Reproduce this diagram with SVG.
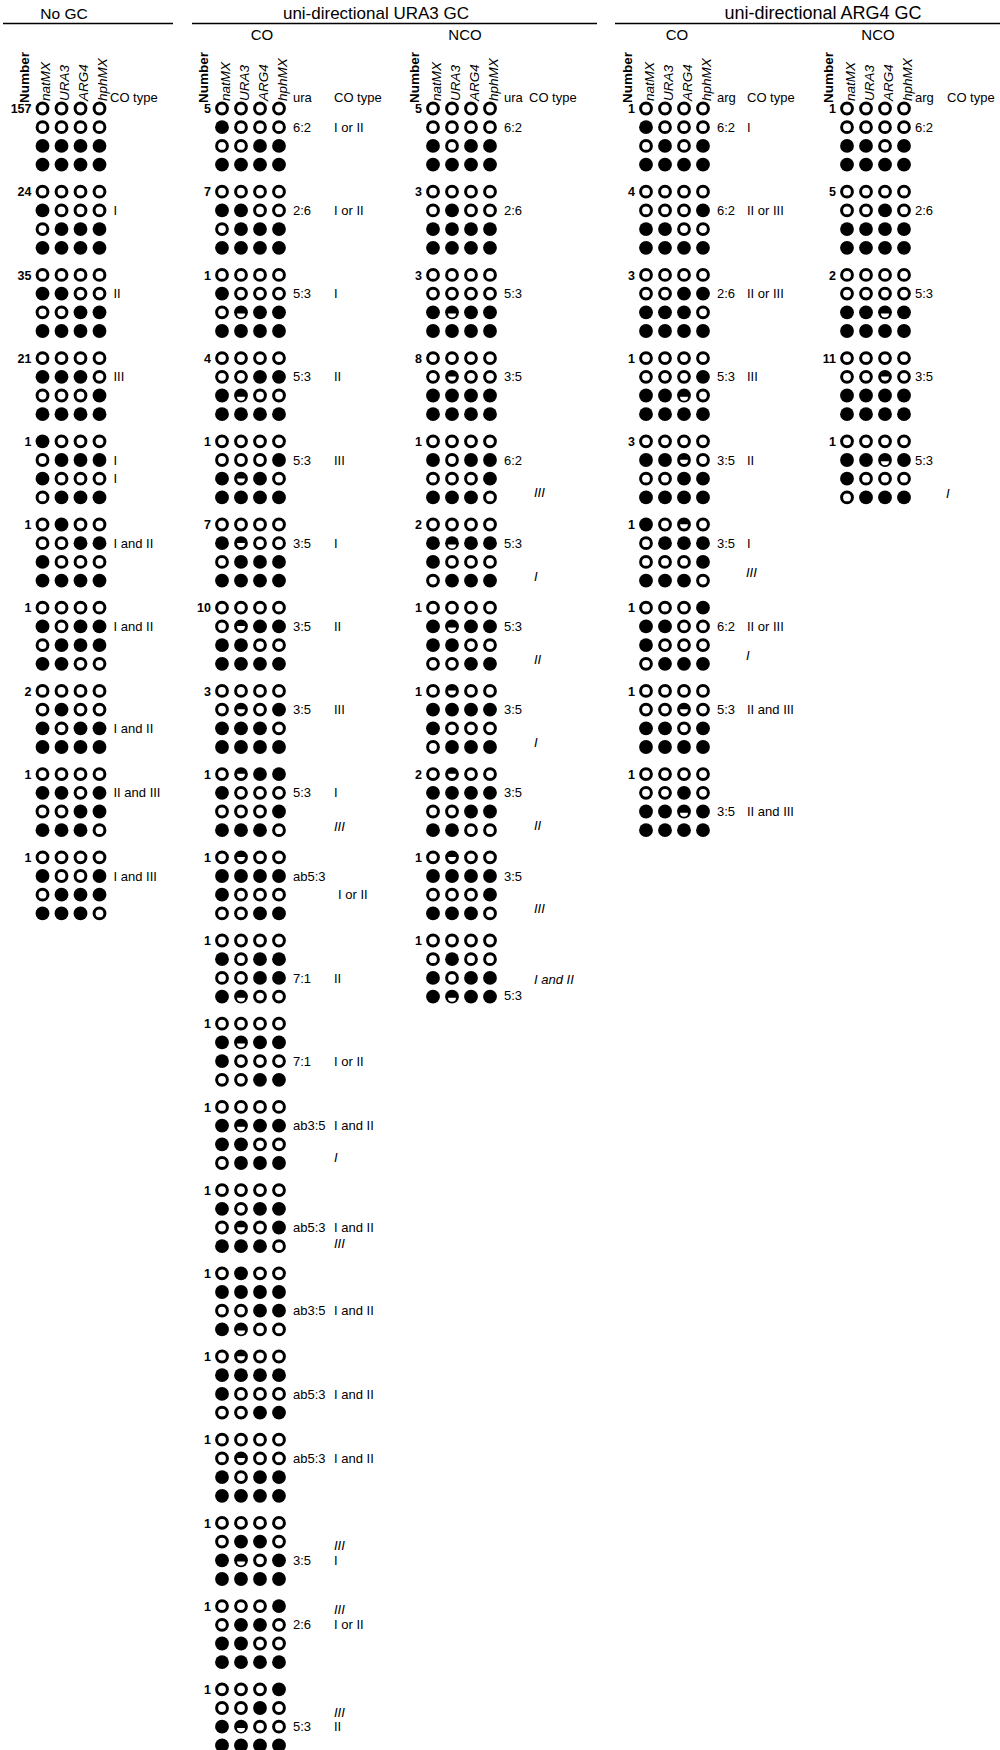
<svg xmlns="http://www.w3.org/2000/svg" width="1000" height="1750" viewBox="0 0 1000 1750">
<style>
text{font-family:"Liberation Sans",Arial,sans-serif;fill:#000}
.h{font-size:15.5px;text-anchor:middle}
.hs{font-size:15px;text-anchor:middle}
.n{font-size:12.5px;font-weight:bold;text-anchor:end}
.l{font-size:13px}
.i{font-size:13px;font-style:italic}
.g{font-size:13.5px;font-style:italic}
.nb{font-size:13.5px;font-weight:bold}
.rule{stroke:#000;stroke-width:1.3}
</style>
<defs>
<circle id="o" r="5.4" fill="#fff" stroke="#000" stroke-width="3"/>
<circle id="x" r="6.9" fill="#000"/>
<g id="T"><use href="#o"/><path d="M-4.2,-0.3A4.2,4.2 0 0 1 4.2,-0.3Z"/></g>
<g id="B"><use href="#x"/><path d="M-4,1.2A4,4 0 0 0 4,1.2Z" fill="#fff"/></g>
<g id="p-oooo"><use href="#o"/><use href="#o" x="19"/><use href="#o" x="38"/><use href="#o" x="57"/></g>
<g id="p-xxxx"><use href="#x"/><use href="#x" x="19"/><use href="#x" x="38"/><use href="#x" x="57"/></g>
<g id="p-xooo"><use href="#x"/><use href="#o" x="19"/><use href="#o" x="38"/><use href="#o" x="57"/></g>
<g id="p-oxxx"><use href="#o"/><use href="#x" x="19"/><use href="#x" x="38"/><use href="#x" x="57"/></g>
<g id="p-xxoo"><use href="#x"/><use href="#x" x="19"/><use href="#o" x="38"/><use href="#o" x="57"/></g>
<g id="p-ooxx"><use href="#o"/><use href="#o" x="19"/><use href="#x" x="38"/><use href="#x" x="57"/></g>
<g id="p-xxxo"><use href="#x"/><use href="#x" x="19"/><use href="#x" x="38"/><use href="#o" x="57"/></g>
<g id="p-ooox"><use href="#o"/><use href="#o" x="19"/><use href="#o" x="38"/><use href="#x" x="57"/></g>
<g id="p-oxoo"><use href="#o"/><use href="#x" x="19"/><use href="#o" x="38"/><use href="#o" x="57"/></g>
<g id="p-xoxx"><use href="#x"/><use href="#o" x="19"/><use href="#x" x="38"/><use href="#x" x="57"/></g>
<g id="p-xxox"><use href="#x"/><use href="#x" x="19"/><use href="#o" x="38"/><use href="#x" x="57"/></g>
<g id="p-xoox"><use href="#x"/><use href="#o" x="19"/><use href="#o" x="38"/><use href="#x" x="57"/></g>
<g id="p-ooxo"><use href="#o"/><use href="#o" x="19"/><use href="#x" x="38"/><use href="#o" x="57"/></g>
<g id="p-oxxo"><use href="#o"/><use href="#x" x="19"/><use href="#x" x="38"/><use href="#o" x="57"/></g>
<g id="p-oxox"><use href="#o"/><use href="#x" x="19"/><use href="#o" x="38"/><use href="#x" x="57"/></g>
<g id="p-oBxx"><use href="#o"/><use href="#B" x="19"/><use href="#x" x="38"/><use href="#x" x="57"/></g>
<g id="p-xBoo"><use href="#x"/><use href="#B" x="19"/><use href="#o" x="38"/><use href="#o" x="57"/></g>
<g id="p-xTxo"><use href="#x"/><use href="#T" x="19"/><use href="#x" x="38"/><use href="#o" x="57"/></g>
<g id="p-xToo"><use href="#x"/><use href="#T" x="19"/><use href="#o" x="38"/><use href="#o" x="57"/></g>
<g id="p-oTxx"><use href="#o"/><use href="#T" x="19"/><use href="#x" x="38"/><use href="#x" x="57"/></g>
<g id="p-oTox"><use href="#o"/><use href="#T" x="19"/><use href="#o" x="38"/><use href="#x" x="57"/></g>
<g id="p-oToo"><use href="#o"/><use href="#T" x="19"/><use href="#o" x="38"/><use href="#o" x="57"/></g>
<g id="p-xBxx"><use href="#x"/><use href="#B" x="19"/><use href="#x" x="38"/><use href="#x" x="57"/></g>
<g id="p-xBox"><use href="#x"/><use href="#B" x="19"/><use href="#o" x="38"/><use href="#x" x="57"/></g>
<g id="p-xxBo"><use href="#x"/><use href="#x" x="19"/><use href="#B" x="38"/><use href="#o" x="57"/></g>
<g id="p-xxTo"><use href="#x"/><use href="#x" x="19"/><use href="#T" x="38"/><use href="#o" x="57"/></g>
<g id="p-xoTo"><use href="#x"/><use href="#o" x="19"/><use href="#T" x="38"/><use href="#o" x="57"/></g>
<g id="p-ooTo"><use href="#o"/><use href="#o" x="19"/><use href="#T" x="38"/><use href="#o" x="57"/></g>
<g id="p-xxBx"><use href="#x"/><use href="#x" x="19"/><use href="#B" x="38"/><use href="#x" x="57"/></g>
</defs>
<rect width="1000" height="1750" fill="#fff"/>

<g id="headers">
<text class="h" x="64" y="19">No GC</text>
<line class="rule" x1="3" y1="23.5" x2="173" y2="23.5"/>
<text class="h" x="376" y="19" style="font-size:17px">uni-directional URA3 GC</text>
<line class="rule" x1="192" y1="23.5" x2="597" y2="23.5"/>
<text class="hs" x="262" y="40">CO</text>
<text class="hs" x="465" y="40">NCO</text>
<text class="h" x="823" y="19" style="font-size:18px">uni-directional ARG4 GC</text>
<line class="rule" x1="615" y1="23.5" x2="1000" y2="23.5"/>
<text class="hs" x="677" y="40">CO</text>
<text class="hs" x="878" y="40">NCO</text>
</g>

<g id="col-heads">
<g id="head-nogc">
<text class="nb" transform="translate(28.5,103) rotate(-90)">Number</text>
<text class="g" transform="translate(50,101) rotate(-90)">natMX</text>
<text class="g" transform="translate(69,101) rotate(-90)">URA3</text>
<text class="g" transform="translate(88,101) rotate(-90)">ARG4</text>
<text class="g" transform="translate(107,101) rotate(-90)">hphMX</text>
<text class="l" x="110" y="101.5">CO type</text>
</g>
<g id="head-ura-co">
<text class="nb" transform="translate(208,103) rotate(-90)">Number</text>
<text class="g" transform="translate(229.5,101) rotate(-90)">natMX</text>
<text class="g" transform="translate(248.5,101) rotate(-90)">URA3</text>
<text class="g" transform="translate(267.5,101) rotate(-90)">ARG4</text>
<text class="g" transform="translate(286.5,101) rotate(-90)">hphMX</text>
<text class="l" x="293" y="101.5">ura</text>
<text class="l" x="334" y="101.5">CO type</text>
</g>
<g id="head-ura-nco">
<text class="nb" transform="translate(419,103) rotate(-90)">Number</text>
<text class="g" transform="translate(440.5,101) rotate(-90)">natMX</text>
<text class="g" transform="translate(459.5,101) rotate(-90)">URA3</text>
<text class="g" transform="translate(478.5,101) rotate(-90)">ARG4</text>
<text class="g" transform="translate(497.5,101) rotate(-90)">hphMX</text>
<text class="l" x="504" y="101.5">ura</text>
<text class="l" x="529" y="101.5">CO type</text>
</g>
<g id="head-arg-co">
<text class="nb" transform="translate(632,103) rotate(-90)">Number</text>
<text class="g" transform="translate(653.5,101) rotate(-90)">natMX</text>
<text class="g" transform="translate(672.5,101) rotate(-90)">URA3</text>
<text class="g" transform="translate(691.5,101) rotate(-90)">ARG4</text>
<text class="g" transform="translate(710.5,101) rotate(-90)">hphMX</text>
<text class="l" x="717" y="101.5">arg</text>
<text class="l" x="747" y="101.5">CO type</text>
</g>
<g id="head-arg-nco">
<text class="nb" transform="translate(833,103) rotate(-90)">Number</text>
<text class="g" transform="translate(854.5,101) rotate(-90)">natMX</text>
<text class="g" transform="translate(873.5,101) rotate(-90)">URA3</text>
<text class="g" transform="translate(892.5,101) rotate(-90)">ARG4</text>
<text class="g" transform="translate(911.5,101) rotate(-90)">hphMX</text>
<text class="l" x="915" y="101.5">arg</text>
<text class="l" x="947" y="101.5">CO type</text>
</g>
</g>

<g id="nogc">
<g id="ng0" transform="translate(42.5,108.5)"><use href="#p-oooo"/><use href="#p-oooo" y="18.7"/><use href="#p-xxxx" y="37.4"/><use href="#p-xxxx" y="56.1"/><text class="n" x="-11" y="4.6">157</text></g>
<g id="ng1" transform="translate(42.5,191.7)"><use href="#p-oooo"/><use href="#p-xooo" y="18.7"/><use href="#p-oxxx" y="37.4"/><use href="#p-xxxx" y="56.1"/><text class="n" x="-11" y="4.6">24</text><text class="l" x="71" y="23.4">I</text></g>
<g id="ng2" transform="translate(42.5,274.9)"><use href="#p-oooo"/><use href="#p-xxoo" y="18.7"/><use href="#p-ooxx" y="37.4"/><use href="#p-xxxx" y="56.1"/><text class="n" x="-11" y="4.6">35</text><text class="l" x="71" y="23.4">II</text></g>
<g id="ng3" transform="translate(42.5,358.1)"><use href="#p-oooo"/><use href="#p-xxxo" y="18.7"/><use href="#p-ooox" y="37.4"/><use href="#p-xxxx" y="56.1"/><text class="n" x="-11" y="4.6">21</text><text class="l" x="71" y="23.4">III</text></g>
<g id="ng4" transform="translate(42.5,441.3)"><use href="#p-xooo"/><use href="#p-oxxx" y="18.7"/><use href="#p-xooo" y="37.4"/><use href="#p-oxxx" y="56.1"/><text class="n" x="-11" y="4.6">1</text><text class="l" x="71" y="23.4">I</text><text class="l" x="71" y="42.1">I</text></g>
<g id="ng5" transform="translate(42.5,524.5)"><use href="#p-oxoo"/><use href="#p-ooxx" y="18.7"/><use href="#p-xooo" y="37.4"/><use href="#p-xxxx" y="56.1"/><text class="n" x="-11" y="4.6">1</text><text class="l" x="71" y="23.4">I and II</text></g>
<g id="ng6" transform="translate(42.5,607.7)"><use href="#p-oooo"/><use href="#p-xoxx" y="18.7"/><use href="#p-oxxx" y="37.4"/><use href="#p-xxoo" y="56.1"/><text class="n" x="-11" y="4.6">1</text><text class="l" x="71" y="23.4">I and II</text></g>
<g id="ng7" transform="translate(42.5,690.9)"><use href="#p-oooo"/><use href="#p-oxoo" y="18.7"/><use href="#p-xoxx" y="37.4"/><use href="#p-xxxx" y="56.1"/><text class="n" x="-11" y="4.6">2</text><text class="l" x="71" y="42.1">I and II</text></g>
<g id="ng8" transform="translate(42.5,774.1)"><use href="#p-oooo"/><use href="#p-xxox" y="18.7"/><use href="#p-ooxx" y="37.4"/><use href="#p-xxxo" y="56.1"/><text class="n" x="-11" y="4.6">1</text><text class="l" x="71" y="23.4">II and III</text></g>
<g id="ng9" transform="translate(42.5,857.3)"><use href="#p-oooo"/><use href="#p-xoox" y="18.7"/><use href="#p-oxxx" y="37.4"/><use href="#p-xxxo" y="56.1"/><text class="n" x="-11" y="4.6">1</text><text class="l" x="71" y="23.4">I and III</text></g>
</g>

<g id="ura-co">
<g id="uc0" transform="translate(222,108.5)"><use href="#p-oooo"/><use href="#p-xooo" y="18.7"/><use href="#p-ooxx" y="37.4"/><use href="#p-xxxx" y="56.1"/><text class="n" x="-11" y="4.6">5</text><text class="l" x="71" y="23.4">6:2</text><text class="l" x="112" y="23.4">I or II</text></g>
<g id="uc1" transform="translate(222,191.7)"><use href="#p-oooo"/><use href="#p-xxoo" y="18.7"/><use href="#p-oxxx" y="37.4"/><use href="#p-xxxx" y="56.1"/><text class="n" x="-11" y="4.6">7</text><text class="l" x="71" y="23.4">2:6</text><text class="l" x="112" y="23.4">I or II</text></g>
<g id="uc2" transform="translate(222,274.9)"><use href="#p-oooo"/><use href="#p-xooo" y="18.7"/><use href="#p-oBxx" y="37.4"/><use href="#p-xxxx" y="56.1"/><text class="n" x="-11" y="4.6">1</text><text class="l" x="71" y="23.4">5:3</text><text class="l" x="112" y="23.4">I</text></g>
<g id="uc3" transform="translate(222,358.1)"><use href="#p-oooo"/><use href="#p-ooxx" y="18.7"/><use href="#p-xBoo" y="37.4"/><use href="#p-xxxx" y="56.1"/><text class="n" x="-11" y="4.6">4</text><text class="l" x="71" y="23.4">5:3</text><text class="l" x="112" y="23.4">II</text></g>
<g id="uc4" transform="translate(222,441.3)"><use href="#p-oooo"/><use href="#p-ooox" y="18.7"/><use href="#p-xTxo" y="37.4"/><use href="#p-xxxx" y="56.1"/><text class="n" x="-11" y="4.6">1</text><text class="l" x="71" y="23.4">5:3</text><text class="l" x="112" y="23.4">III</text></g>
<g id="uc5" transform="translate(222,524.5)"><use href="#p-oooo"/><use href="#p-xToo" y="18.7"/><use href="#p-oxxx" y="37.4"/><use href="#p-xxxx" y="56.1"/><text class="n" x="-11" y="4.6">7</text><text class="l" x="71" y="23.4">3:5</text><text class="l" x="112" y="23.4">I</text></g>
<g id="uc6" transform="translate(222,607.7)"><use href="#p-oooo"/><use href="#p-oTxx" y="18.7"/><use href="#p-xxoo" y="37.4"/><use href="#p-xxxx" y="56.1"/><text class="n" x="-11" y="4.6">10</text><text class="l" x="71" y="23.4">3:5</text><text class="l" x="112" y="23.4">II</text></g>
<g id="uc7" transform="translate(222,690.9)"><use href="#p-oooo"/><use href="#p-oTox" y="18.7"/><use href="#p-xxxo" y="37.4"/><use href="#p-xxxx" y="56.1"/><text class="n" x="-11" y="4.6">3</text><text class="l" x="71" y="23.4">3:5</text><text class="l" x="112" y="23.4">III</text></g>
<g id="uc8" transform="translate(222,774.1)"><use href="#p-oTxx"/><use href="#p-xooo" y="18.7"/><use href="#p-ooox" y="37.4"/><use href="#p-xxxo" y="56.1"/><text class="n" x="-11" y="4.6">1</text><text class="l" x="71" y="23.4">5:3</text><text class="l" x="112" y="23.4">I</text><text class="i" x="112" y="57">III</text></g>
<g id="uc9" transform="translate(222,857.3)"><use href="#p-oToo"/><use href="#p-xxxx" y="18.7"/><use href="#p-xooo" y="37.4"/><use href="#p-ooxx" y="56.1"/><text class="n" x="-11" y="4.6">1</text><text class="l" x="71" y="23.4">ab5:3</text><text class="l" x="116" y="42.1">I or II</text></g>
<g id="uc10" transform="translate(222,940.5)"><use href="#p-oooo"/><use href="#p-xoxx" y="18.7"/><use href="#p-ooxx" y="37.4"/><use href="#p-xBoo" y="56.1"/><text class="n" x="-11" y="4.6">1</text><text class="l" x="71" y="42.1">7:1</text><text class="l" x="112" y="42.1">II</text></g>
<g id="uc11" transform="translate(222,1023.7)"><use href="#p-oooo"/><use href="#p-xBxx" y="18.7"/><use href="#p-xooo" y="37.4"/><use href="#p-ooxx" y="56.1"/><text class="n" x="-11" y="4.6">1</text><text class="l" x="71" y="42.1">7:1</text><text class="l" x="112" y="42.1">I or II</text></g>
<g id="uc12" transform="translate(222,1106.9)"><use href="#p-oooo"/><use href="#p-xBxx" y="18.7"/><use href="#p-xxoo" y="37.4"/><use href="#p-oxxx" y="56.1"/><text class="n" x="-11" y="4.6">1</text><text class="l" x="71" y="23.4">ab3:5</text><text class="l" x="112" y="23.4">I and II</text><text class="i" x="112" y="55.5">I</text></g>
<g id="uc13" transform="translate(222,1190.1)"><use href="#p-oooo"/><use href="#p-xoxx" y="18.7"/><use href="#p-oTox" y="37.4"/><use href="#p-xxxo" y="56.1"/><text class="n" x="-11" y="4.6">1</text><text class="l" x="71" y="42.1">ab5:3</text><text class="l" x="112" y="42.1">I and II</text><text class="i" x="112" y="57.7">III</text></g>
<g id="uc14" transform="translate(222,1273.3)"><use href="#p-oxoo"/><use href="#p-xxxx" y="18.7"/><use href="#p-ooxx" y="37.4"/><use href="#p-xBoo" y="56.1"/><text class="n" x="-11" y="4.6">1</text><text class="l" x="71" y="42.1">ab3:5</text><text class="l" x="112" y="42.1">I and II</text></g>
<g id="uc15" transform="translate(222,1356.5)"><use href="#p-oToo"/><use href="#p-xxxx" y="18.7"/><use href="#p-xooo" y="37.4"/><use href="#p-ooxx" y="56.1"/><text class="n" x="-11" y="4.6">1</text><text class="l" x="71" y="42.1">ab5:3</text><text class="l" x="112" y="42.1">I and II</text></g>
<g id="uc16" transform="translate(222,1439.7)"><use href="#p-oooo"/><use href="#p-oToo" y="18.7"/><use href="#p-xoxx" y="37.4"/><use href="#p-xxxx" y="56.1"/><text class="n" x="-11" y="4.6">1</text><text class="l" x="71" y="23.4">ab5:3</text><text class="l" x="112" y="23.4">I and II</text></g>
<g id="uc17" transform="translate(222,1522.9)"><use href="#p-oooo"/><use href="#p-oxxo" y="18.7"/><use href="#p-xBox" y="37.4"/><use href="#p-xxxx" y="56.1"/><text class="n" x="-11" y="4.6">1</text><text class="l" x="71" y="42.1">3:5</text><text class="i" x="112" y="27.6">III</text><text class="l" x="112" y="42.1">I</text></g>
<g id="uc18" transform="translate(222,1606.1)"><use href="#p-ooox"/><use href="#p-oxxo" y="18.7"/><use href="#p-xxoo" y="37.4"/><use href="#p-xxxx" y="56.1"/><text class="n" x="-11" y="4.6">1</text><text class="l" x="71" y="23.4">2:6</text><text class="i" x="112" y="8">III</text><text class="l" x="112" y="23.4">I or II</text></g>
<g id="uc19" transform="translate(222,1689.3)"><use href="#p-ooox"/><use href="#p-ooxo" y="18.7"/><use href="#p-xBoo" y="37.4"/><use href="#p-xxxx" y="56.1"/><text class="n" x="-11" y="4.6">1</text><text class="l" x="71" y="42.1">5:3</text><text class="i" x="112" y="27.6">III</text><text class="l" x="112" y="42.1">II</text></g>
</g>

<g id="ura-nco">
<g id="un0" transform="translate(433,108.5)"><use href="#p-oooo"/><use href="#p-oooo" y="18.7"/><use href="#p-xoxx" y="37.4"/><use href="#p-xxxx" y="56.1"/><text class="n" x="-11" y="4.6">5</text><text class="l" x="71" y="23.4">6:2</text></g>
<g id="un1" transform="translate(433,191.7)"><use href="#p-oooo"/><use href="#p-oxoo" y="18.7"/><use href="#p-xxxx" y="37.4"/><use href="#p-xxxx" y="56.1"/><text class="n" x="-11" y="4.6">3</text><text class="l" x="71" y="23.4">2:6</text></g>
<g id="un2" transform="translate(433,274.9)"><use href="#p-oooo"/><use href="#p-oooo" y="18.7"/><use href="#p-xBxx" y="37.4"/><use href="#p-xxxx" y="56.1"/><text class="n" x="-11" y="4.6">3</text><text class="l" x="71" y="23.4">5:3</text></g>
<g id="un3" transform="translate(433,358.1)"><use href="#p-oooo"/><use href="#p-oToo" y="18.7"/><use href="#p-xxxx" y="37.4"/><use href="#p-xxxx" y="56.1"/><text class="n" x="-11" y="4.6">8</text><text class="l" x="71" y="23.4">3:5</text></g>
<g id="un4" transform="translate(433,441.3)"><use href="#p-oooo"/><use href="#p-xoxx" y="18.7"/><use href="#p-ooox" y="37.4"/><use href="#p-xxxo" y="56.1"/><text class="n" x="-11" y="4.6">1</text><text class="l" x="71" y="23.4">6:2</text><text class="i" x="101" y="56">III</text></g>
<g id="un5" transform="translate(433,524.5)"><use href="#p-oooo"/><use href="#p-xBxx" y="18.7"/><use href="#p-xooo" y="37.4"/><use href="#p-oxxx" y="56.1"/><text class="n" x="-11" y="4.6">2</text><text class="l" x="71" y="23.4">5:3</text><text class="i" x="101" y="56">I</text></g>
<g id="un6" transform="translate(433,607.7)"><use href="#p-oooo"/><use href="#p-xBxx" y="18.7"/><use href="#p-xxoo" y="37.4"/><use href="#p-ooxx" y="56.1"/><text class="n" x="-11" y="4.6">1</text><text class="l" x="71" y="23.4">5:3</text><text class="i" x="101" y="56">II</text></g>
<g id="un7" transform="translate(433,690.9)"><use href="#p-oToo"/><use href="#p-xxxx" y="18.7"/><use href="#p-xooo" y="37.4"/><use href="#p-oxxx" y="56.1"/><text class="n" x="-11" y="4.6">1</text><text class="l" x="71" y="23.4">3:5</text><text class="i" x="101" y="56">I</text></g>
<g id="un8" transform="translate(433,774.1)"><use href="#p-oToo"/><use href="#p-xxxx" y="18.7"/><use href="#p-ooxx" y="37.4"/><use href="#p-xxoo" y="56.1"/><text class="n" x="-11" y="4.6">2</text><text class="l" x="71" y="23.4">3:5</text><text class="i" x="101" y="56">II</text></g>
<g id="un9" transform="translate(433,857.3)"><use href="#p-oToo"/><use href="#p-xxxx" y="18.7"/><use href="#p-ooox" y="37.4"/><use href="#p-xxxo" y="56.1"/><text class="n" x="-11" y="4.6">1</text><text class="l" x="71" y="23.4">3:5</text><text class="i" x="101" y="56">III</text></g>
<g id="un10" transform="translate(433,940.5)"><use href="#p-oooo"/><use href="#p-oxoo" y="18.7"/><use href="#p-xoxx" y="37.4"/><use href="#p-xBxx" y="56.1"/><text class="n" x="-11" y="4.6">1</text><text class="i" x="101" y="43">I and II</text><text class="l" x="71" y="59">5:3</text></g>
</g>

<g id="arg-co">
<g id="ac0" transform="translate(646,108.5)"><use href="#p-oooo"/><use href="#p-xooo" y="18.7"/><use href="#p-oxox" y="37.4"/><use href="#p-xxxx" y="56.1"/><text class="n" x="-11" y="4.6">1</text><text class="l" x="71" y="23.4">6:2</text><text class="l" x="101" y="23.4">I</text></g>
<g id="ac1" transform="translate(646,191.7)"><use href="#p-oooo"/><use href="#p-ooox" y="18.7"/><use href="#p-xxoo" y="37.4"/><use href="#p-xxxx" y="56.1"/><text class="n" x="-11" y="4.6">4</text><text class="l" x="71" y="23.4">6:2</text><text class="l" x="101" y="23.4">II or III</text></g>
<g id="ac2" transform="translate(646,274.9)"><use href="#p-oooo"/><use href="#p-ooxx" y="18.7"/><use href="#p-xxxo" y="37.4"/><use href="#p-xxxx" y="56.1"/><text class="n" x="-11" y="4.6">3</text><text class="l" x="71" y="23.4">2:6</text><text class="l" x="101" y="23.4">II or III</text></g>
<g id="ac3" transform="translate(646,358.1)"><use href="#p-oooo"/><use href="#p-ooox" y="18.7"/><use href="#p-xxBo" y="37.4"/><use href="#p-xxxx" y="56.1"/><text class="n" x="-11" y="4.6">1</text><text class="l" x="71" y="23.4">5:3</text><text class="l" x="101" y="23.4">III</text></g>
<g id="ac4" transform="translate(646,441.3)"><use href="#p-oooo"/><use href="#p-xxTo" y="18.7"/><use href="#p-ooxx" y="37.4"/><use href="#p-xxxx" y="56.1"/><text class="n" x="-11" y="4.6">3</text><text class="l" x="71" y="23.4">3:5</text><text class="l" x="101" y="23.4">II</text></g>
<g id="ac5" transform="translate(646,524.5)"><use href="#p-xoTo"/><use href="#p-oxxx" y="18.7"/><use href="#p-ooox" y="37.4"/><use href="#p-xxxo" y="56.1"/><text class="n" x="-11" y="4.6">1</text><text class="l" x="71" y="23.4">3:5</text><text class="l" x="101" y="23.4">I</text><text class="i" x="100" y="52">III</text></g>
<g id="ac6" transform="translate(646,607.7)"><use href="#p-ooox"/><use href="#p-xxoo" y="18.7"/><use href="#p-xooo" y="37.4"/><use href="#p-oxxx" y="56.1"/><text class="n" x="-11" y="4.6">1</text><text class="l" x="71" y="23.4">6:2</text><text class="l" x="101" y="23.4">II or III</text><text class="i" x="100" y="52">I</text></g>
<g id="ac7" transform="translate(646,690.9)"><use href="#p-oooo"/><use href="#p-ooTo" y="18.7"/><use href="#p-xxox" y="37.4"/><use href="#p-xxxx" y="56.1"/><text class="n" x="-11" y="4.6">1</text><text class="l" x="71" y="23.4">5:3</text><text class="l" x="101" y="23.4">II and III</text></g>
<g id="ac8" transform="translate(646,774.1)"><use href="#p-oooo"/><use href="#p-ooxo" y="18.7"/><use href="#p-xxBx" y="37.4"/><use href="#p-xxxx" y="56.1"/><text class="n" x="-11" y="4.6">1</text><text class="l" x="71" y="42.1">3:5</text><text class="l" x="101" y="42.1">II and III</text></g>
</g>

<g id="arg-nco">
<g id="an0" transform="translate(847,108.5)"><use href="#p-oooo"/><use href="#p-oooo" y="18.7"/><use href="#p-xxox" y="37.4"/><use href="#p-xxxx" y="56.1"/><text class="n" x="-11" y="4.6">1</text><text class="l" x="68" y="23.4">6:2</text></g>
<g id="an1" transform="translate(847,191.7)"><use href="#p-oooo"/><use href="#p-ooxo" y="18.7"/><use href="#p-xxxx" y="37.4"/><use href="#p-xxxx" y="56.1"/><text class="n" x="-11" y="4.6">5</text><text class="l" x="68" y="23.4">2:6</text></g>
<g id="an2" transform="translate(847,274.9)"><use href="#p-oooo"/><use href="#p-oooo" y="18.7"/><use href="#p-xxBx" y="37.4"/><use href="#p-xxxx" y="56.1"/><text class="n" x="-11" y="4.6">2</text><text class="l" x="68" y="23.4">5:3</text></g>
<g id="an3" transform="translate(847,358.1)"><use href="#p-oooo"/><use href="#p-ooTo" y="18.7"/><use href="#p-xxxx" y="37.4"/><use href="#p-xxxx" y="56.1"/><text class="n" x="-11" y="4.6">11</text><text class="l" x="68" y="23.4">3:5</text></g>
<g id="an4" transform="translate(847,441.3)"><use href="#p-oooo"/><use href="#p-xxBx" y="18.7"/><use href="#p-xooo" y="37.4"/><use href="#p-oxxx" y="56.1"/><text class="n" x="-11" y="4.6">1</text><text class="l" x="68" y="23.4">5:3</text><text class="i" x="99" y="57">I</text></g>
</g>

<g id="connectors"/>
</svg>
